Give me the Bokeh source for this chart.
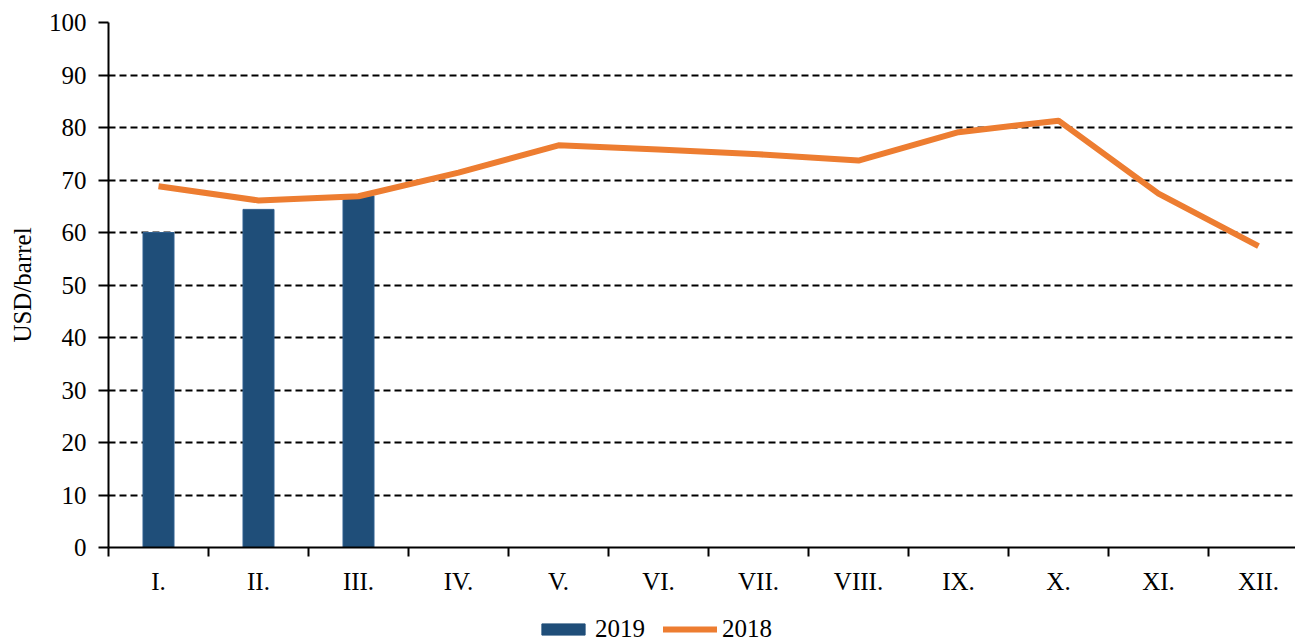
from bokeh.plotting import figure
from bokeh.layouts import column
from bokeh.models import FixedTicker, Range1d, Legend, LegendItem, ColumnDataSource
from bokeh.embed import file_html
from bokeh.resources import INLINE

months = ["I.", "II.", "III.", "IV.", "V.", "VI.", "VII.", "VIII.", "IX.", "X.", "XI.", "XII."]
values_2019 = [60.0, 64.4, 67.0]
values_2018 = [68.8, 66.1, 66.9, 71.4, 76.6, 75.8, 74.9, 73.7, 79.1, 81.3, 67.4, 57.4]
y_ticks = [0, 10, 20, 30, 40, 50, 60, 70, 80, 90, 100]

FONT = "Liberation Serif"
C19 = "#1F4E79"
C18 = "#ED7D31"

centers = [i + 0.5 for i in range(len(months))]
bounds = list(range(len(months) + 1))

src19 = ColumnDataSource(dict(x=centers[:len(values_2019)], top=values_2019))
src18 = ColumnDataSource(dict(x=centers, y=values_2018))

p = figure(width=1295, height=597, output_backend="svg", toolbar_location=None,
           x_range=Range1d(0, 11.87), y_range=Range1d(0, 100),
           min_border_left=108, min_border_right=0, min_border_top=22, min_border_bottom=0)
p.outline_line_color = None
p.background_fill_color = "white"

p.vbar(x="x", top="top", width=0.31, source=src19, fill_color=C19,
       line_color="#2F5F8F", line_width=1)
p.line(x="x", y="y", source=src18, line_color=C18, line_width=6, line_join="round")

xa = p.xaxis[0]
xa.ticker = FixedTicker(ticks=centers, minor_ticks=bounds)
xa.major_label_overrides = {c: m for c, m in zip(centers, months)}
xa.major_tick_out = 0
xa.major_tick_in = 0
xa.minor_tick_out = 9
xa.minor_tick_in = 0
xa.minor_tick_line_color = "black"
xa.minor_tick_line_width = 2
xa.axis_line_width = 2
xa.axis_line_color = "black"
xa.major_label_standoff = 11
xa.major_label_text_font = FONT
xa.major_label_text_font_size = "25px"
xa.major_label_text_color = "black"

ya = p.yaxis[0]
ya.ticker = FixedTicker(ticks=y_ticks)
ya.major_tick_out = 10
ya.major_tick_in = 0
ya.minor_tick_out = 0
ya.minor_tick_in = 0
ya.major_tick_line_width = 2
ya.axis_line_width = 2
ya.axis_line_color = "black"
ya.major_label_standoff = 12
ya.major_label_text_font = FONT
ya.major_label_text_font_size = "25px"
ya.major_label_text_color = "black"
ya.axis_label = "USD/barrel"
ya.axis_label_text_font = FONT
ya.axis_label_text_font_style = "normal"
ya.axis_label_text_font_size = "25px"
ya.axis_label_text_color = "black"
ya.axis_label_standoff = 10

p.xgrid.grid_line_color = None
p.ygrid.grid_line_color = "black"
p.ygrid.grid_line_width = 2
p.ygrid.grid_line_dash = "7 4"

# legend strip below the chart; its renderers' data lie outside its visible ranges
q = figure(width=1295, height=47, output_backend="svg", toolbar_location=None,
           x_range=Range1d(100, 101), y_range=Range1d(1000, 1001),
           x_axis_location=None, y_axis_location=None,
           min_border_left=0, min_border_right=0, min_border_top=0, min_border_bottom=0)
q.outline_line_color = None
q.xgrid.visible = False
q.ygrid.visible = False
lb = q.vbar(x="x", top="top", width=0.31, source=src19, fill_color=C19, line_color=C19)
ll = q.line(x="x", y="y", source=src18, line_color=C18, line_width=6, line_cap="round")

legend = Legend(items=[LegendItem(label="2019", renderers=[lb]),
                       LegendItem(label="2018", renderers=[ll])],
                orientation="horizontal", location=(428, 1),
                border_line_color=None, background_fill_alpha=0,
                label_text_font=FONT, label_text_font_size="25px",
                label_text_color="black", label_height=24,
                glyph_width=54, glyph_height=14, spacing=18, padding=0, margin=0,
                label_standoff=5)
q.add_layout(legend)

open("out.html", "w").write(file_html(column(p, q, spacing=0), INLINE))
